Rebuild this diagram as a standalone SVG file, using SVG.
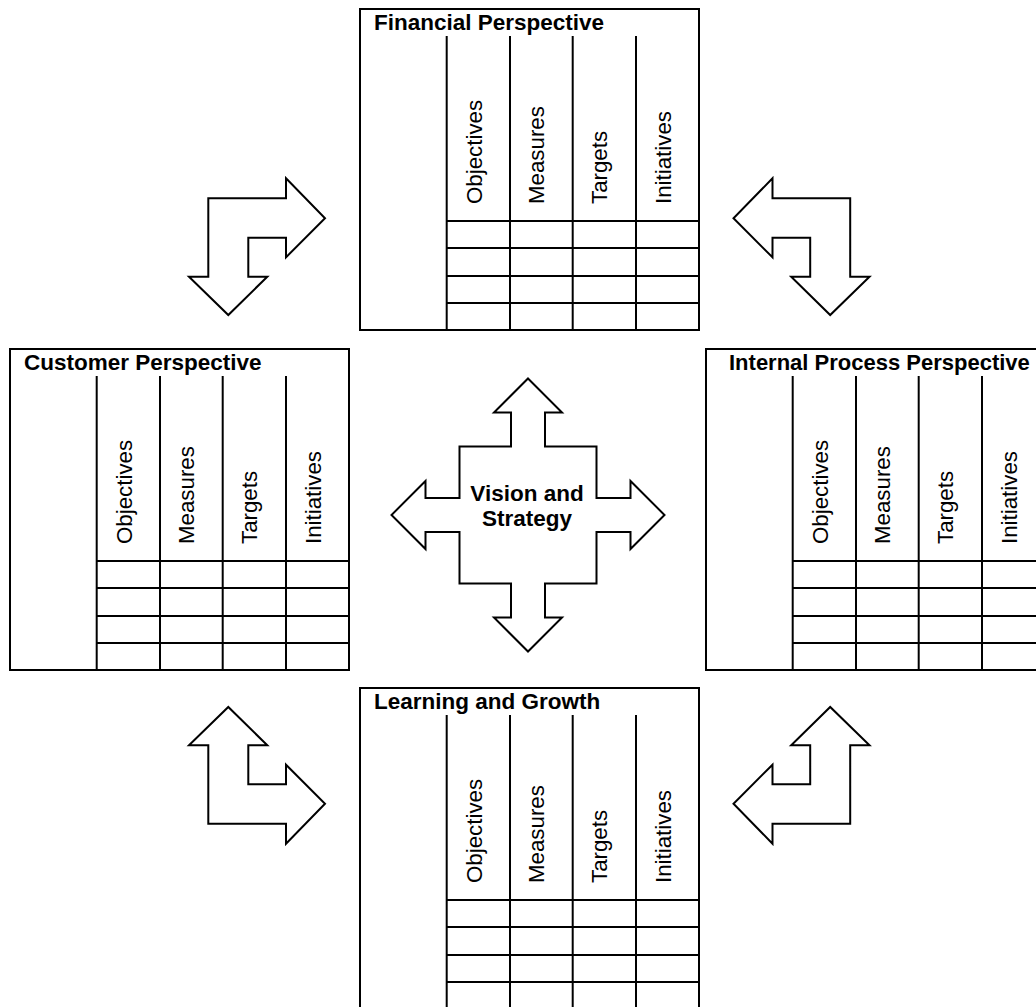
<svg xmlns="http://www.w3.org/2000/svg" xmlns:xlink="http://www.w3.org/1999/xlink" width="1036" height="1007" viewBox="0 0 1036 1007">
<style>
.box{fill:#fff;stroke:#000;stroke-width:2}
.ln{stroke:#000;stroke-width:2;fill:none}
.arr{fill:#fff;stroke:#000;stroke-width:2;stroke-linejoin:miter}
.title{font-family:"Liberation Sans",Arial,sans-serif;font-weight:bold;font-size:22.5px;fill:#000}
.lbl{font-family:"Liberation Sans",Arial,sans-serif;font-size:22.3px;fill:#000}
.ctr{font-family:"Liberation Sans",Arial,sans-serif;font-weight:bold;font-size:22.5px;fill:#000;text-anchor:middle}
</style>
<defs>
<g id="grid">
<rect class="box" x="0" y="0" width="339" height="321"/>
<path class="ln" d="M86.7,27V321M150,27V321M212.7,27V321M276,27V321M86.7,212H339M86.7,239H339M86.7,267H339M86.7,294H339"/>
</g>
<path id="bend" class="arr" d="M208.3,198.3H286V178.3L325,218.3L286,257.3V237.7H248.3V276.7H267.3L228.3,315L189,276.7H208.3Z"/>
</defs>
<rect x="0" y="0" width="1036" height="1007" fill="#fff"/>

<g id="connectors">
<use xlink:href="#bend"/>
<use xlink:href="#bend" transform="translate(1058.5,0) scale(-1,1)"/>
<use xlink:href="#bend" transform="translate(0,1022) scale(1,-1)"/>
<use xlink:href="#bend" transform="translate(1058.5,1022) scale(-1,-1)"/>
</g>

<g id="financial" transform="translate(360,9)">
<use xlink:href="#grid"/>
<text class="title" x="14" y="21">Financial Perspective</text>
<text class="lbl" transform="translate(121.5,195) rotate(-90)">Objectives</text>
<text class="lbl" transform="translate(183.5,195) rotate(-90)">Measures</text>
<text class="lbl" transform="translate(246.5,195) rotate(-90)">Targets</text>
<text class="lbl" transform="translate(311,195) rotate(-90)">Initiatives</text>
</g>

<g id="customer" transform="translate(10,349)">
<use xlink:href="#grid"/>
<text class="title" x="14" y="21">Customer Perspective</text>
<text class="lbl" transform="translate(121.5,195) rotate(-90)">Objectives</text>
<text class="lbl" transform="translate(183.5,195) rotate(-90)">Measures</text>
<text class="lbl" transform="translate(246.5,195) rotate(-90)">Targets</text>
<text class="lbl" transform="translate(311,195) rotate(-90)">Initiatives</text>
</g>

<g id="internal" transform="translate(706,349)">
<use xlink:href="#grid"/>
<text class="title" x="23" y="21" style="font-size:22px">Internal Process Perspective</text>
<text class="lbl" transform="translate(121.5,195) rotate(-90)">Objectives</text>
<text class="lbl" transform="translate(183.5,195) rotate(-90)">Measures</text>
<text class="lbl" transform="translate(246.5,195) rotate(-90)">Targets</text>
<text class="lbl" transform="translate(311,195) rotate(-90)">Initiatives</text>
</g>

<g id="learning" transform="translate(360,688)">
<use xlink:href="#grid"/>
<text class="title" x="14" y="21">Learning and Growth</text>
<text class="lbl" transform="translate(121.5,195) rotate(-90)">Objectives</text>
<text class="lbl" transform="translate(183.5,195) rotate(-90)">Measures</text>
<text class="lbl" transform="translate(246.5,195) rotate(-90)">Targets</text>
<text class="lbl" transform="translate(311,195) rotate(-90)">Initiatives</text>
</g>

<g id="vision">
<path class="arr" d="M528,378.5L562,412.5H545V446.5H596.5V498H630.5V481L664.5,515L630.5,549V532H596.5V583.5H545V617.5H562L528,651.5L494,617.5H511V583.5H459.5V532H425.5V549L391.5,515L425.5,481V498H459.5V446.5H511V412.5H494Z"/>
<text class="ctr" x="527" y="500.5">Vision and</text>
<text class="ctr" x="527" y="525.5">Strategy</text>
</g>
</svg>
